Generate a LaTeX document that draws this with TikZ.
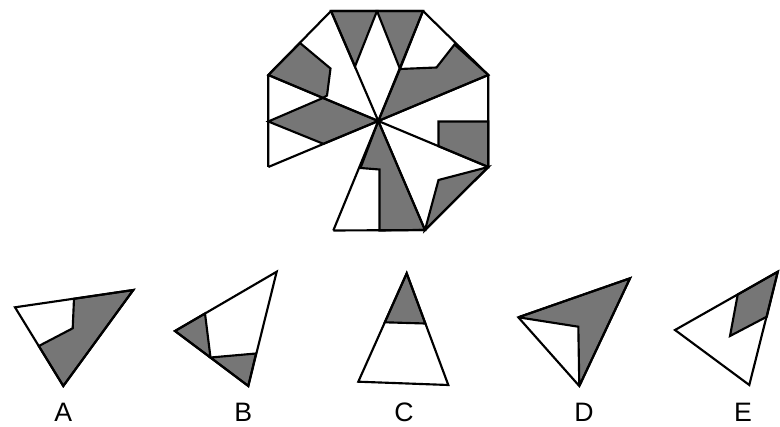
\documentclass[tikz,border=0pt]{standalone}
\usepackage{fontspec}
\setmainfont{Liberation Sans}
\definecolor{shade}{RGB}{118,118,118}
\begin{document}
\begin{tikzpicture}[x=0.75pt,y=-0.75pt, line width=1.6pt, line join=miter, miter limit=4,
  piece/.style={fill=shade,draw=black},
  outline/.style={draw=black},
  lab/.style={font=\fontsize{20}{22}\selectfont, anchor=base, inner sep=0pt}]
\useasboundingbox (0,0) rectangle (780,427);
% ---------- octagon ----------
\coordinate (C) at (378.3,121);
\coordinate (V1) at (331,11);
\coordinate (V2) at (423,11);
\coordinate (V3) at (488.3,75);
\coordinate (V4) at (488.3,167);
\coordinate (V5) at (425,230);
\coordinate (V6) at (333.3,230.5);
\coordinate (V7) at (268.3,167);
\coordinate (V8) at (268.3,75);
\coordinate (Mt) at (377,11);
\coordinate (T1) at (355,66.5);
\coordinate (T2) at (400,69);
\coordinate (P) at (322.9,98);
\coordinate (Q) at (323.3,143.8);
\coordinate (M) at (268.3,121.5);
% gray pieces
\path[piece] (V8) -- (300,43) -- (330.5,68.5) -- (327,95.5) -- (P) -- cycle;
\path[piece] (V1) -- (Mt) -- (T1) -- cycle;
\path[piece] (Mt) -- (V2) -- (T2) -- cycle;
\path[piece] (T2) -- (436.5,67.5) -- (454.5,44.5) -- (V3) -- (C) -- cycle;
\path[piece] (M) -- (P) -- (C) -- (Q) -- cycle;
\path[piece] (438.5,121.5) -- (488.3,121.5) -- (V4) -- (438.5,146.2) -- cycle;
\path[piece] (V4) -- (438.5,180) -- (V5) -- cycle;
\path[piece] (C) -- (360.5,168) -- (379.5,169.5) -- (379.5,230.5) -- (V5) -- cycle;
% outline and spokes
\path[outline] (V7) -- (V8) -- (V1) -- (V2) -- (V3) -- (V4) -- (V5) -- (V6);
\foreach \v in {V1,V2,V3,V4,V5,V6,V7,V8} \path[outline] (C) -- (\v);
% ---------- option A ----------
\coordinate (a1) at (15,307.3);
\coordinate (a2) at (133.3,290);
\coordinate (a3) at (63.3,386);
\path[piece] (74,298.8) -- (a2) -- (a3) -- (38.8,346) -- (72.7,328.3) -- cycle;
\path[outline] (a1) -- (a2) -- (a3) -- cycle;
% ---------- option B ----------
\coordinate (b1) at (175,331);
\coordinate (b2) at (276.7,271.7);
\coordinate (b3) at (248.3,386);
\path[piece] (b1) -- (205,313.5) -- (210.5,357.5) -- cycle;
\path[piece] (210.5,357.5) -- (256,353.5) -- (b3) -- cycle;
\path[outline] (b1) -- (b2) -- (b3) -- cycle;
% ---------- option C ----------
\coordinate (c1) at (406.7,273.3);
\coordinate (c2) at (358.3,381.7);
\coordinate (c3) at (448.3,385);
\path[piece] (c1) -- (384.8,322.3) -- (425.3,323.5) -- cycle;
\path[outline] (c1) -- (c2) -- (c3) -- cycle;
% ---------- option D ----------
\coordinate (d1) at (518.3,317.3);
\coordinate (d2) at (630,278.3);
\coordinate (d3) at (579.3,386);
\coordinate (d4) at (578.3,326.7);
\path[piece] (d1) -- (d2) -- (d3) -- (d4) -- cycle;
\path[outline] (d1) -- (d2) -- (d3) -- cycle;
% ---------- option E ----------
\coordinate (e1) at (675,330);
\coordinate (e2) at (777.8,271.7);
\coordinate (e3) at (749.3,385);
\path[piece] (737.7,294.6) -- (e2) -- (766.8,316.7) -- (730,336) -- cycle;
\path[outline] (e1) -- (e2) -- (e3) -- cycle;
% ---------- labels ----------
\node[lab] (lA) at (63.3,421) {A};
\node[lab] (lB) at (243.3,421) {B};
\node[lab] (lC) at (404,421) {C};
\node[lab] (lD) at (584,421) {D};
\node[lab] (lE) at (743,421) {E};
\end{tikzpicture}
\end{document}
